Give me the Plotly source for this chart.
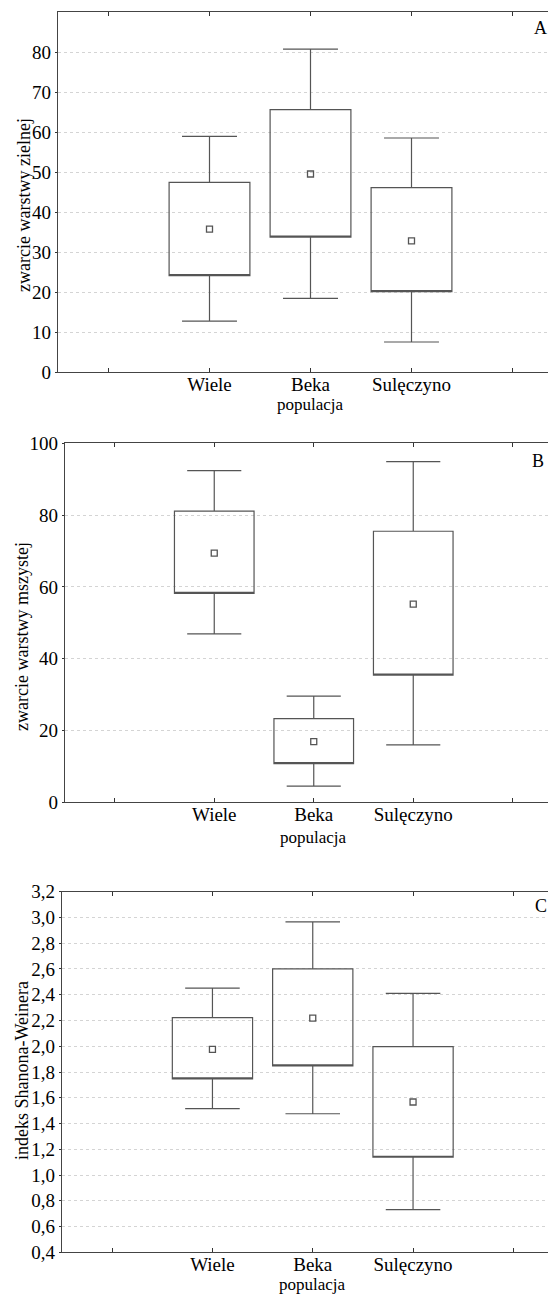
import plotly.graph_objects as go

# ---------------- data ----------------
populations = ["Wiele", "Beka", "Sulęczyno"]

# Panel A: zwarcie warstwy zielnej
A_mean = [35.7, 49.5, 32.8]
A_box_low = [24.1, 33.7, 20.1]
A_box_high = [47.4, 65.6, 46.1]
A_whisk_low = [12.7, 18.4, 7.5]
A_whisk_high = [58.9, 80.7, 58.5]

# Panel B: zwarcie warstwy mszystej
B_mean = [69.4, 16.9, 55.2]
B_box_low = [58.2, 10.8, 35.4]
B_box_high = [81.1, 23.3, 75.5]
B_whisk_low = [46.9, 4.5, 16.0]
B_whisk_high = [92.4, 29.6, 94.9]

# Panel C: indeks Shanona-Weinera
C_mean = [1.976, 2.219, 1.567]
C_box_low = [1.746, 1.847, 1.138]
C_box_high = [2.222, 2.600, 1.997]
C_whisk_low = [1.515, 1.476, 0.731]
C_whisk_high = [2.452, 2.965, 2.411]

A_ticks = [0, 10, 20, 30, 40, 50, 60, 70, 80]
B_ticks = [0, 20, 40, 60, 80, 100]
C_ticks = [0.4, 0.6, 0.8, 1.0, 1.2, 1.4, 1.6, 1.8, 2.0, 2.2, 2.4, 2.6, 2.8, 3.0, 3.2]

y_titles = ["zwarcie warstwy zielnej", "zwarcie warstwy mszystej", "indeks Shanona-Weinera"]
panel_letters = ["A", "B", "C"]
x_title = "populacja"

# ---------------- layout constants ----------------
W, H = 556, 1296
OFF = 8  # page body margin: the figure is drawn 8 px right/down in the window
FONT = "Liberation Serif"
TXT = "#000000"
LINE = "#555555"

# all pixel positions below are screen positions (as in the reference)
panels = [
    dict(left=58, top=12, bottom=372, spacing=101.0, yrange=[0, 90], ticks=A_ticks, fmt="",
         mean=A_mean, lo=A_box_low, hi=A_box_high, wl=A_whisk_low, wh=A_whisk_high,
         ytitle_y=205, ytitle_x=24, letter=(549, 28), xtitle_y=404),
    dict(left=65, top=443.3, bottom=802.3, spacing=99.5, yrange=[0, 100], ticks=B_ticks, fmt="",
         mean=B_mean, lo=B_box_low, hi=B_box_high, wl=B_whisk_low, wh=B_whisk_high,
         ytitle_y=637, ytitle_x=22, letter=(546, 461), xtitle_y=837),
    dict(left=62, top=891.7, bottom=1252.3, spacing=100.3, yrange=[0.4, 3.2], ticks=C_ticks, fmt=".1f",
         mean=C_mean, lo=C_box_low, hi=C_box_high, wl=C_whisk_low, wh=C_whisk_high,
         ytitle_y=1071, ytitle_x=22, letter=(549, 906), xtitle_y=1284),
]


def px(xs):
    return (xs - OFF) / W


def py(ys):
    return 1 - (ys - OFF) / H


positions = [i + 1 for i in range(len(populations))]
tickvals_x = [0] + positions + [len(populations) + 1]
ticktext_x = [""] + populations + [""]

fig = go.Figure()
annotations = []
layout_axes = {}

for k, p in enumerate(panels):
    n = "" if k == 0 else str(k + 1)
    xa, ya = "x" + n, "y" + n
    fig.add_trace(go.Box(
        x=positions, q1=p["lo"], median=p["lo"], q3=p["hi"],
        lowerfence=p["wl"], upperfence=p["wh"],
        width=0.8, whiskerwidth=0.68,
        line=dict(color=LINE, width=1.2), fillcolor="rgba(255,255,255,0)",
        boxpoints=False, showlegend=False, hoverinfo="skip",
        xaxis=xa, yaxis=ya,
    ))
    fig.add_trace(go.Scatter(
        x=positions, y=p["mean"], mode="markers",
        marker=dict(symbol="square-open", size=6, color=LINE, line=dict(width=1.3, color=LINE)),
        showlegend=False, hoverinfo="skip", xaxis=xa, yaxis=ya,
    ))
    # domain ends at figure right edge = screen x W+OFF
    xr = [-0.5, -0.5 + (W + OFF - p["left"]) / p["spacing"]]
    layout_axes["xaxis" + n] = dict(
        domain=[px(p["left"]), 1], range=xr, anchor=ya,
        tickvals=tickvals_x, ticktext=ticktext_x,
        ticks="inside", ticklen=4, tickwidth=1, tickcolor="#333",
        ticklabelstandoff=-5,
        showline=True, linecolor="#444", linewidth=1.3, mirror="ticks",
        showgrid=False, zeroline=False, automargin=False,
        tickfont=dict(family=FONT, size=19, color=TXT),
    )
    layout_axes["yaxis" + n] = dict(
        domain=[py(p["bottom"]), py(p["top"])], range=p["yrange"], anchor=xa,
        tickvals=p["ticks"], tickformat=p["fmt"],
        ticks="outside", ticklen=2, tickwidth=1, tickcolor="#333",
        showline=True, linecolor="#444", linewidth=1.3, mirror=False,
        showgrid=True, gridcolor="#d4d4d4", griddash="dot", gridwidth=1,
        zeroline=False, automargin=False,
        tickfont=dict(family=FONT, size=19, color=TXT),
    )
    annotations.append(dict(
        text=y_titles[k], textangle=-90, xref="paper", yref="paper",
        x=px(p["ytitle_x"]), y=py(p["ytitle_y"]), xanchor="center", yanchor="middle",
        showarrow=False, font=dict(family=FONT, size=18, color=TXT),
    ))
    annotations.append(dict(
        text=panel_letters[k], xref="paper", yref="paper",
        x=px(p["letter"][0]), y=py(p["letter"][1]), xanchor="right", yanchor="middle",
        showarrow=False, font=dict(family=FONT, size=18, color=TXT),
    ))
    annotations.append(dict(
        text=x_title, xref=xa, yref="paper",
        x=positions[1], y=py(p["xtitle_y"]), xanchor="center", yanchor="middle",
        showarrow=False, font=dict(family=FONT, size=17, color=TXT),
    ))

fig.update_layout(
    width=W, height=H,
    margin=dict(l=0, r=0, t=0, b=0),
    paper_bgcolor="white", plot_bgcolor="white",
    separators=", ",
    annotations=annotations,
    **layout_axes,
)

fig.write_html("out.html")
